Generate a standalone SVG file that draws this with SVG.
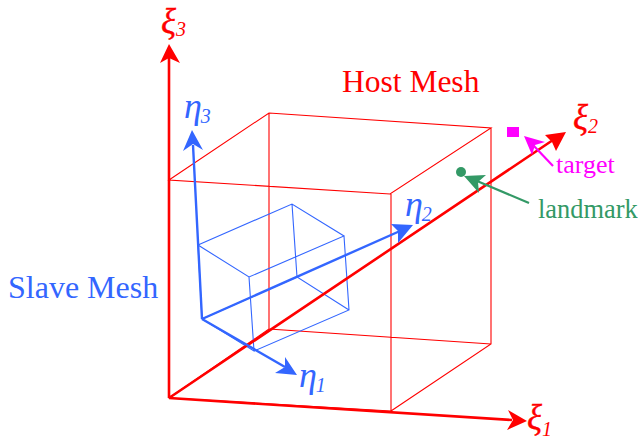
<svg xmlns="http://www.w3.org/2000/svg" width="638" height="441" viewBox="0 0 638 441">
<style>
.t{font-family:"Liberation Serif","Times New Roman",serif}
.g{font-style:italic;font-size:35px;stroke:currentColor;stroke-width:.4}
.e{font-style:italic;font-size:36px}
.s{font-style:italic;font-size:20px;stroke:none}
.r{fill:#f00;color:#f00}.b{fill:#36f}.m{fill:#f0f}.n{fill:#396}
.rm{fill:none;stroke:#f00;stroke-width:1.1}
.bm{fill:none;stroke:#36f;stroke-width:1.1}
.ra{stroke:#f00;stroke-width:2.6;fill:none}
.ba{stroke:#36f;stroke-width:2.4;fill:none}
</style>
<g id="host-mesh"><path class="rm" d="M169 180L269 113L491 128L390 194ZM169 180V398L391 411V194M391 411L491 344V128M269 113V329L491 344M269 329L169 398"/></g>
<g id="slave-mesh"><path class="bm" d="M198 245L292 204L344 236L249 277ZM198 245L202 319L254 351L249 277M254 351L349 310L344 236M292 204L297 277L349 310M297 277L202 319"/></g>
<g id="connectors">
<path class="ra" d="M169 398L512 420M169 398V55M169 398L553 140"/>
<path class="r" d="M527 421L507 430L513 420L508 410ZM169 44L180 63L169 58L160 63ZM566 132L556 151L552 142L545 135Z"/>
<path class="ba" d="M202 319L193 145M202 319L285 367M202 319L400 231"/>
<path class="b" d="M192 130L203 150L193 144L183 151ZM297 375L275 373L285 367L285 357ZM413 225L398 243L398 231L391 224Z"/>
<path fill="none" stroke="#f0f" stroke-width="2.2" d="M553 166L533 145"/>
<path class="m" d="M524 136L545 142L535 145L532 155Z"/>
<path fill="none" stroke="#396" stroke-width="2.2" d="M529 203L477 181"/>
<path class="n" d="M464 176L486 175L478 182L479 193Z"/>
</g>
<g id="target"><rect class="m" x="507" y="127" width="12" height="10"/><text class="t m" x="556" y="173" font-size="26">target</text></g>
<g id="landmark"><circle class="n" cx="461" cy="172" r="5"/><text class="t n" x="538" y="218" font-size="26.4">landmark</text></g>
<g id="labels">
<text class="t r" x="342" y="92" font-size="31.5">Host Mesh</text>
<text class="t b" x="8" y="298" font-size="32">Slave Mesh</text>
<text class="t r g" x="161" y="33">ξ<tspan class="s" dy="3">3</tspan></text>
<text class="t r g" x="573" y="129">ξ<tspan class="s" dy="4">2</tspan></text>
<text class="t r g" x="527" y="429">ξ<tspan class="s" dy="7">1</tspan></text>
<text class="t b e" x="184" y="118">η<tspan class="s" dx="-1" dy="5">3</tspan></text>
<text class="t b e" x="405" y="216">η<tspan class="s" dx="-1" dy="5">2</tspan></text>
<text class="t b e" x="299" y="387">η<tspan class="s" dx="-1" dy="5">1</tspan></text>
</g>
</svg>
